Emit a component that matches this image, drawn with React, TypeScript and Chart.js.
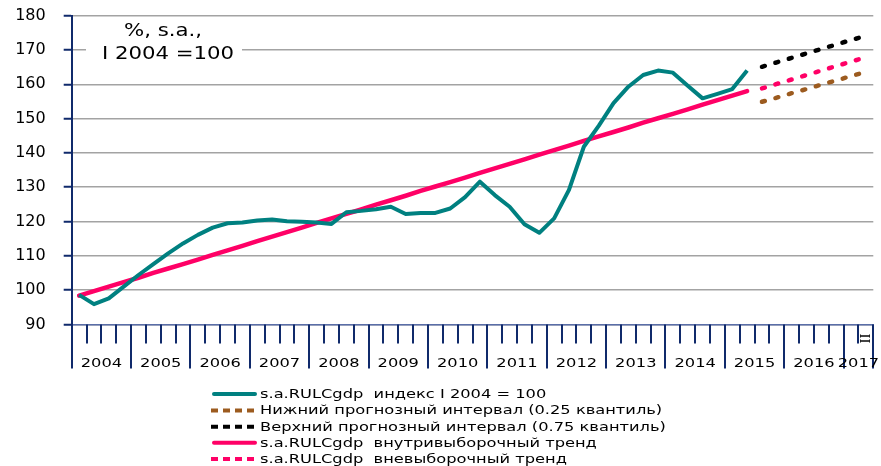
import React, { useEffect, useRef } from 'react';
import { Chart, registerables } from 'chart.js';

Chart.register(...registerables);

// ---- data ----
const years = ['2004', '2005', '2006', '2007', '2008', '2009', '2010', '2011', '2012', '2013', '2014', '2015', '2016', '2017'];
const quarterCount = 54; // I 2004 .. II 2017
const lastQuarterLabel = 'II';

const actualIndex = [
  98.6, 95.9, 97.6, 101.0, 104.4, 107.6, 110.7, 113.6, 116.1, 118.2, 119.5, 119.7,
  120.3, 120.6, 120.1, 119.9, 119.7, 119.3, 122.7, 123.1, 123.6, 124.3, 122.2, 122.5,
  122.5, 123.8, 127.1, 131.6, 127.7, 124.3, 119.2, 116.7, 120.9, 129.2, 141.8, 147.9,
  154.5, 159.3, 162.7, 164.0, 163.4, 159.6, 155.9, 157.2, 158.6, 164.0,
];
const inSampleTrend = [
  98.4, 99.7, 101.0, 102.3, 103.6, 105.0, 106.3, 107.6, 108.9, 110.3, 111.6, 112.9,
  114.3, 115.6, 116.9, 118.2, 119.6, 120.9, 122.2, 123.5, 124.9, 126.2, 127.5, 128.9,
  130.2, 131.5, 132.8, 134.2, 135.5, 136.8, 138.1, 139.5, 140.8, 142.1, 143.5, 144.8,
  146.1, 147.4, 148.8, 150.1, 151.4, 152.7, 154.1, 155.4, 156.7, 158.0,
];
const forecastStart = 46; // III 2015
const lowerInterval = [154.9, 156.1, 157.4, 158.6, 159.9, 161.1, 162.4, 163.6];
const upperInterval = [165.1, 166.4, 167.7, 169.0, 170.3, 171.6, 172.9, 174.1];
const outSampleTrend = [158.8, 160.1, 161.4, 162.7, 164.0, 165.3, 166.6, 167.9];

const yMin = 90;
const yMax = 180;
const yStep = 10;

const unitLines = ['%, s.a.,', 'I 2004 =100'];
const seriesNames = [
  's.a.RULCgdp  индекс I 2004 = 100',
  'Нижний прогнозный интервал (0.25 квантиль)',
  'Верхний прогнозный интервал (0.75 квантиль)',
  's.a.RULCgdp  внутривыборочный тренд',
  's.a.RULCgdp  вневыборочный тренд',
];

// ---- styles ----
const TEAL = '#008080';
const PINK = '#ff0066';
const BROWN = '#9c5b1f';
const BLACK = '#000000';
const NAVY = '#102a6b';
const SX = 1.25;

const toPoints = (vals: number[], start: number) => vals.map((v, i) => ({ x: start + i + 0.5, y: v }));

function drawStretched(ctx: CanvasRenderingContext2D, text: string, x: number, y: number, align: CanvasTextAlign) {
  ctx.save();
  ctx.translate(x, y);
  ctx.scale(SX, 1);
  ctx.textAlign = align;
  ctx.fillText(text, 0, 0);
  ctx.restore();
}

const decorPlugin = {
  id: 'decor',
  afterDraw(chart: any) {
    const ctx: CanvasRenderingContext2D = chart.ctx;
    const xs = chart.scales.x;
    const area = chart.chartArea;
    const base = area.bottom;

    ctx.save();
    // quarter ticks and year separators
    ctx.strokeStyle = NAVY;
    ctx.lineWidth = 2;
    for (let q = 0; q <= quarterCount; q++) {
      const x = Math.round(xs.getPixelForValue(q));
      const isYear = q % 4 === 0 || q === quarterCount;
      ctx.beginPath();
      ctx.moveTo(x, base);
      ctx.lineTo(x, base + (isYear ? 44 : 19));
      ctx.stroke();
    }

    // year labels
    ctx.fillStyle = '#000';
    ctx.font = '13px "DejaVu Sans"';
    ctx.textBaseline = 'alphabetic';
    years.forEach((yr, k) => {
      const s = k * 4;
      const e = Math.min(s + 4, quarterCount);
      const cx = xs.getPixelForValue((s + e) / 2);
      drawStretched(ctx, yr, cx, base + 42.3, 'center');
    });

    // last quarter label, rotated
    ctx.save();
    ctx.translate(xs.getPixelForValue(quarterCount - 0.5), base + 14);
    ctx.rotate(-Math.PI / 2);
    ctx.font = '15px "Liberation Serif"';
    ctx.textAlign = 'center';
    ctx.textBaseline = 'middle';
    ctx.fillText(lastQuarterLabel, 0, 0);
    ctx.restore();

    // unit annotation
    ctx.fillStyle = '#fff';
    ctx.fillRect(86, 42, 156, 20);
    ctx.fillStyle = '#000';
    ctx.font = '17px "DejaVu Sans"';
    drawStretched(ctx, unitLines[0], 163, 36, 'center');
    drawStretched(ctx, unitLines[1], 168, 59, 'center');

    // legend
    const rows = [394, 410.5, 426.7, 442.8, 459];
    const styles = [
      { color: TEAL, dash: [] as number[] },
      { color: BROWN, dash: [7, 5] },
      { color: BLACK, dash: [7, 5] },
      { color: PINK, dash: [] as number[] },
      { color: PINK, dash: [7, 5] },
    ];
    ctx.font = '13px "DejaVu Sans"';
    ctx.textBaseline = 'middle';
    rows.forEach((ry, i) => {
      ctx.save();
      ctx.strokeStyle = styles[i].color;
      ctx.lineWidth = 4;
      ctx.lineCap = styles[i].dash.length ? 'butt' : 'round';
      ctx.setLineDash(styles[i].dash);
      ctx.beginPath();
      ctx.moveTo(styles[i].dash.length ? 211 : 214, ry);
      ctx.lineTo(255, ry);
      ctx.stroke();
      ctx.restore();
      ctx.fillStyle = '#000';
      drawStretched(ctx, seriesNames[i], 260, ry + 0.5, 'left');
    });
    ctx.restore();
  },
};

export default function App() {
  const ref = useRef<HTMLCanvasElement | null>(null);

  useEffect(() => {
    if (!ref.current) return;
    const dotted = { borderDash: [3, 11], borderCapStyle: 'round' as const, borderWidth: 4.5 };
    const chart = new Chart(ref.current, {
      type: 'line',
      data: {
        datasets: [
          { label: seriesNames[0], data: toPoints(actualIndex, 0), borderColor: TEAL, borderWidth: 4, pointRadius: 0, tension: 0, borderJoinStyle: 'round' },
          { label: seriesNames[1], data: toPoints(lowerInterval, forecastStart), borderColor: BROWN, pointRadius: 0, ...dotted },
          { label: seriesNames[2], data: toPoints(upperInterval, forecastStart), borderColor: BLACK, pointRadius: 0, ...dotted },
          { label: seriesNames[3], data: toPoints(inSampleTrend, 0), borderColor: PINK, borderWidth: 4.5, pointRadius: 0, borderCapStyle: 'round', borderJoinStyle: 'round' },
          { label: seriesNames[4], data: toPoints(outSampleTrend, forecastStart), borderColor: PINK, pointRadius: 0, ...dotted },
        ],
      },
      options: {
        responsive: false,
        animation: false,
        layout: { padding: { left: 0, right: 7.7, top: 15.7, bottom: 0 } },
        plugins: { legend: { display: false }, tooltip: { enabled: false } },
        scales: {
          x: {
            type: 'linear',
            min: 0,
            max: quarterCount,
            grid: { display: false },
            ticks: { display: false },
            border: { display: true, color: '#5a6ea8', width: 1.5 },
            afterFit: (s: any) => { s.height = 466 - 324.4; s.paddingLeft = 0; s.paddingRight = 0; },
          },
          y: {
            min: yMin,
            max: yMax,
            ticks: { stepSize: yStep, color: '#000', font: { family: 'DejaVu Sans', size: 16 }, padding: 18 },
            grid: { color: '#a3a3a3', lineWidth: 1.5, tickColor: NAVY, tickLength: 8, tickWidth: 2 },
            border: { display: true, color: NAVY, width: 2 },
            afterFit: (s: any) => { s.width = 71.7; s.paddingTop = 0; s.paddingBottom = 0; },
          },
        },
      },
      plugins: [decorPlugin],
    });
    return () => chart.destroy();
  }, []);

  return (
    <div style={{ position: 'absolute', left: 0, top: 0, width: 881, height: 466, background: '#fff' }}>
      <canvas ref={ref} width={881} height={466} style={{ display: 'block' }} />
    </div>
  );
}
